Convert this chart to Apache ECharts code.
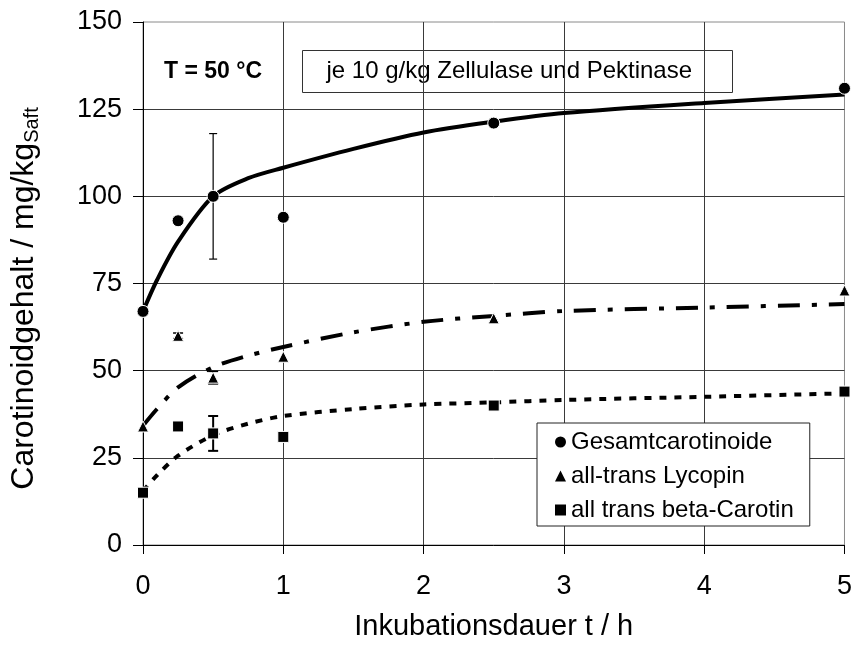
<!DOCTYPE html>
<html>
<head>
<meta charset="utf-8">
<title>Carotinoidgehalt</title>
<script src="https://cdn.jsdelivr.net/npm/echarts@6/dist/echarts.min.js"></script>
<style>
  html, body { margin: 0; padding: 0; background: #fff; }
  #chart { width: 855px; height: 646px; }
</style>
</head>
<body>
<div id="chart"></div>
<script>
// Measured contents (mg/kg juice) over incubation time (h)
const hours = [0, 0.25, 0.5, 1, 2.5, 5];
const gesamt = [67, 93, 100, 94, 121, 131];
const lycopin = [34, 60, 48, 54, 65, 73];
const betaCarotin = [15, 34, 32, 31, 40, 44];

// Standard deviations (0 = none drawn)
const gesamtErr = [0, 0, 18, 0, 0, 0];
const lycopinErr = [0, 0.8, 1.8, 0, 0, 0];
const betaErr = [0, 0, 5, 0, 0, 0];

// Trend curves
const fitHours = [0, 0.1, 0.25, 0.5, 0.75, 1, 1.5, 2, 2.5, 3, 4, 5];
const gesamtFit = [67, 76, 87, 100, 105.2, 108.2, 113.6, 118.3, 121.4, 123.9, 126.8, 129.2];
const lycopinFit = [34.2, 39, 45.2, 51, 54.3, 56.8, 61, 64, 65.7, 67.1, 68.1, 69.1];
const betaFit = [15.5, 20, 25.6, 31.5, 34.8, 37, 39, 40.3, 40.9, 41.6, 42.5, 43.5];

const xTicks = [0, 1, 2, 3, 4, 5];
const yTicks = [0, 25, 50, 75, 100, 125, 150];

const names = ['Gesamtcarotinoide', 'all-trans Lycopin', 'all trans beta-Carotin'];
const FONT = "'Liberation Sans', Arial, sans-serif";

const pairs = (xs, ys) => xs.map((x, i) => [x, ys[i]]);
const errTriples = (xs, ys, es) =>
  xs.map((x, i) => [x, ys[i], es[i]]).filter(d => d[2] > 0);

function errorBar(width, capHalf) {
  return function (params, api) {
    const x = api.value(0), y = api.value(1), e = api.value(2);
    const top = api.coord([x, y + e]);
    const bot = api.coord([x, y - e]);
    const st = { stroke: '#000', lineWidth: width };
    return {
      type: 'group',
      children: [
        { type: 'line', shape: { x1: top[0], y1: top[1], x2: bot[0], y2: bot[1] }, style: st },
        { type: 'line', shape: { x1: top[0] - capHalf, y1: top[1], x2: top[0] + capHalf, y2: top[1] }, style: st },
        { type: 'line', shape: { x1: bot[0] - capHalf, y1: bot[1], x2: bot[0] + capHalf, y2: bot[1] }, style: st }
      ]
    };
  };
}

function trend(data, type) {
  return {
    type: 'line',
    data: data,
    smooth: 0.3,
    showSymbol: false,
    silent: true,
    z: 3,
    lineStyle: { color: '#000', width: 4, type: type }
  };
}

function points(name, data, symbol, size) {
  return {
    name: name,
    type: 'scatter',
    data: data,
    symbol: symbol,
    symbolSize: size,
    z: 5,
    itemStyle: { color: '#000', opacity: 1, borderColor: '#fff', borderWidth: 1 }
  };
}

const chart = echarts.init(document.getElementById('chart'), null, { renderer: 'canvas' });

chart.setOption({
  animation: false,
  backgroundColor: '#fff',
  textStyle: { fontFamily: FONT, color: '#000' },
  grid: {
    left: 143, right: 8, top: 22, bottom: 100,
    show: true, borderColor: '#8a8a8a', borderWidth: 1, backgroundColor: 'transparent'
  },
  xAxis: {
    type: 'value',
    min: xTicks[0], max: xTicks[xTicks.length - 1], interval: 1,
    name: 'Inkubationsdauer t / h',
    nameLocation: 'middle',
    nameGap: 67,
    nameTextStyle: { fontSize: 29, color: '#000', fontFamily: FONT },
    axisLine: { lineStyle: { color: '#000', width: 1 } },
    axisTick: { show: true, inside: false, length: 9, lineStyle: { color: '#000' } },
    axisLabel: { fontSize: 27, color: '#000', margin: 28, fontFamily: FONT },
    splitLine: { show: true, showMinLine: false, showMaxLine: false, lineStyle: { color: '#3a3a3a', width: 1 } }
  },
  yAxis: {
    type: 'value',
    min: yTicks[0], max: yTicks[yTicks.length - 1], interval: 25,
    name: '{a|Carotinoidgehalt / mg/kg}{b|Saft}',
    nameLocation: 'middle',
    nameRotate: 90,
    nameGap: 101,
    nameTextStyle: {
      fontFamily: FONT, color: '#000',
      padding: [0, 30, 0, 0],
      rich: {
        a: { fontSize: 32, fontFamily: FONT, color: '#000', lineHeight: 36, verticalAlign: 'middle' },
        b: { fontSize: 20, fontFamily: FONT, color: '#000', lineHeight: 36, verticalAlign: 'bottom', padding: [12, 0, 0, 0] }
      }
    },
    axisLine: { show: true, lineStyle: { color: '#000', width: 1 } },
    axisTick: { show: true, inside: false, length: 10, lineStyle: { color: '#000' } },
    axisLabel: { fontSize: 27, color: '#000', margin: 21, fontFamily: FONT },
    splitLine: { show: true, showMinLine: false, showMaxLine: false, lineStyle: { color: '#3a3a3a', width: 1 } }
  },
  legend: {
    data: [
      { name: names[0], icon: 'circle' },
      { name: names[1], icon: 'triangle' },
      { name: names[2], icon: 'rect' }
    ],
    orient: 'vertical',
    left: 537, top: 423,
    padding: [7, 16, 4, 18],
    itemGap: 10,
    itemWidth: 11, itemHeight: 11,
    itemTextGap: 9,
    selectedMode: false,
    backgroundColor: '#fff',
    borderColor: '#222', borderWidth: 1,
    itemStyle: { color: '#000', opacity: 1, borderWidth: 0 },
    textStyle: { fontSize: 24, color: '#000', fontFamily: FONT, lineHeight: 23 }
  },
  graphic: [
    {
      type: 'text', left: 164, top: 60, z: 10,
      style: { text: 'T = 50 °C', font: 'bold 23px ' + FONT, fill: '#000' }
    },
    {
      type: 'group', left: 302, top: 50, z: 10,
      children: [
        { type: 'rect', shape: { x: 0, y: 0, width: 430, height: 42 },
          style: { fill: '#fff', stroke: '#333', lineWidth: 1 } },
        { type: 'text', x: 24, y: 21,
          style: { text: 'je 10 g/kg Zellulase und Pektinase', font: '24px ' + FONT, fill: '#000', verticalAlign: 'middle' } }
      ]
    }
  ],
  series: [
    trend(pairs(fitHours, gesamtFit), 'solid'),
    trend(pairs(fitHours, lycopinFit), [22, 12, 5, 12]),
    trend(pairs(fitHours, betaFit), [7, 8]),
    { type: 'custom', silent: true, z: 4, data: errTriples(hours, gesamt, gesamtErr), renderItem: errorBar(1.2, 4) },
    { type: 'custom', silent: true, z: 4, data: errTriples(hours, lycopin, lycopinErr), renderItem: errorBar(1.5, 5) },
    { type: 'custom', silent: true, z: 4, data: errTriples(hours, betaCarotin, betaErr), renderItem: errorBar(2, 5) },
    points(names[0], pairs(hours, gesamt), 'circle', 12),
    points(names[1], pairs(hours, lycopin), 'triangle', 11),
    points(names[2], pairs(hours, betaCarotin), 'rect', 11)
  ]
});
</script>
</body>
</html>
